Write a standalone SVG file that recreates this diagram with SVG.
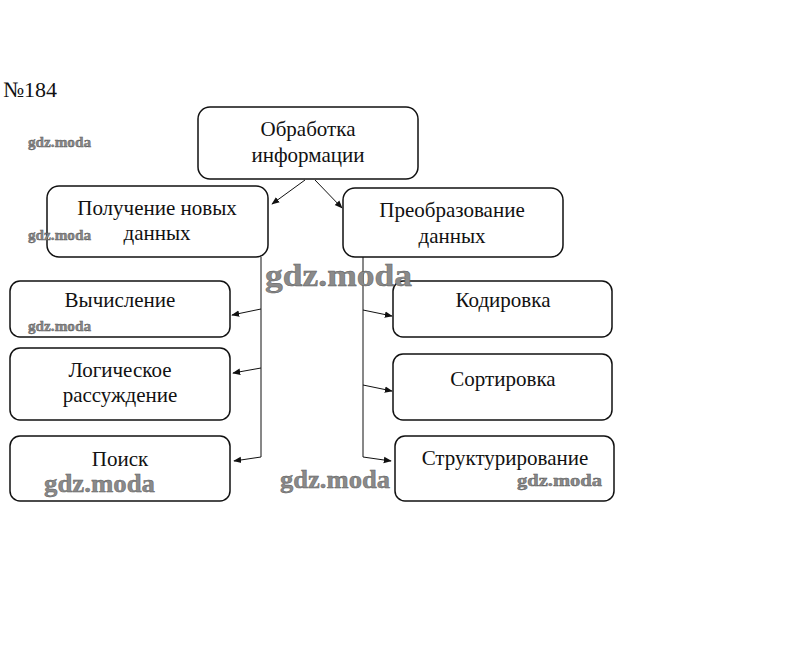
<svg xmlns="http://www.w3.org/2000/svg" width="806" height="646" viewBox="0 0 806 646">
<style>
.box{fill:#fff;stroke:#111;stroke-width:1.5}
.t{font-family:"Liberation Serif","Times New Roman",serif;font-size:21px;fill:#111;text-anchor:middle}
.c{fill:none;stroke:#111;stroke-width:1}
.wm{font-family:"Liberation Serif","Times New Roman",serif;font-weight:bold;fill:#8a8a8a;stroke:#555;stroke-width:0.4}
</style>
<defs>
<marker id="ah" viewBox="0 0 10 10" refX="9" refY="5" markerWidth="8" markerHeight="8" orient="auto" markerUnits="userSpaceOnUse">
<path d="M0,1 L10,5 L0,9 Z" fill="#111"/>
</marker>
</defs>
<rect width="806" height="646" fill="#fff"/>
<text x="3" y="97" font-family="Liberation Serif, serif" font-size="22" fill="#111">№184</text>

<g id="connectors">
<path class="c" d="M305,180 L272,204" marker-end="url(#ah)"/>
<path class="c" d="M315,180 L342,208" marker-end="url(#ah)"/>
<path class="c" d="M261,257 L261,457"/>
<path class="c" d="M261,309 L232,315" marker-end="url(#ah)"/>
<path class="c" d="M261,368 L233,373" marker-end="url(#ah)"/>
<path class="c" d="M261,457 L234,461" marker-end="url(#ah)"/>
<path class="c" d="M363,257 L363,457"/>
<path class="c" d="M363,310 L392,316" marker-end="url(#ah)"/>
<path class="c" d="M363,385 L392,391" marker-end="url(#ah)"/>
<path class="c" d="M363,457 L391,461" marker-end="url(#ah)"/>
</g>

<g id="n-obrabotka"><rect class="box" x="198" y="107" width="220" height="72" rx="12"/>
<text class="t" x="308" y="136">Обработка</text><text class="t" x="308" y="162">информации</text></g>
<g id="n-poluchenie"><rect class="box" x="47" y="186" width="221" height="71" rx="12"/>
<text class="t" x="157" y="215">Получение новых</text><text class="t" x="157" y="240">данных</text></g>
<g id="n-preobrazovanie"><rect class="box" x="343" y="188" width="220" height="69" rx="12"/>
<text class="t" x="452" y="217">Преобразование</text><text class="t" x="452" y="243">данных</text></g>
<g id="n-vychislenie"><rect class="box" x="10" y="281" width="220" height="56" rx="10"/>
<text class="t" x="120" y="307">Вычисление</text></g>
<g id="n-logicheskoe"><rect class="box" x="10" y="348" width="220" height="72" rx="10"/>
<text class="t" x="120" y="377">Логическое</text><text class="t" x="120" y="402">рассуждение</text></g>
<g id="n-poisk"><rect class="box" x="10" y="436" width="220" height="65" rx="10"/>
<text class="t" x="120" y="466">Поиск</text></g>
<g id="n-kodirovka"><rect class="box" x="393" y="281" width="219" height="56" rx="10"/>
<text class="t" x="503" y="307">Кодировка</text></g>
<g id="n-sortirovka"><rect class="box" x="393" y="354" width="219" height="66" rx="10"/>
<text class="t" x="503" y="386">Сортировка</text></g>
<g id="n-strukturirovanie"><rect class="box" x="395" y="436" width="219" height="65" rx="10"/>
<text class="t" x="505" y="465">Структурирование</text></g>

<g id="watermarks">
<text class="wm" x="28" y="147" font-size="14" textLength="63" lengthAdjust="spacingAndGlyphs">gdz.moda</text>
<text class="wm" x="28" y="240" font-size="14" textLength="63" lengthAdjust="spacingAndGlyphs">gdz.moda</text>
<text class="wm" x="28" y="331" font-size="14" textLength="63" lengthAdjust="spacingAndGlyphs">gdz.moda</text>
<text class="wm" x="265" y="286" font-size="31" textLength="147" lengthAdjust="spacingAndGlyphs">gdz.moda</text>
<text class="wm" x="44" y="492" font-size="25" textLength="111" lengthAdjust="spacingAndGlyphs">gdz.moda</text>
<text class="wm" x="280" y="488" font-size="25" textLength="110" lengthAdjust="spacingAndGlyphs">gdz.moda</text>
<text class="wm" x="517" y="486" font-size="16" textLength="85" lengthAdjust="spacingAndGlyphs">gdz.moda</text>
</g>
</svg>
